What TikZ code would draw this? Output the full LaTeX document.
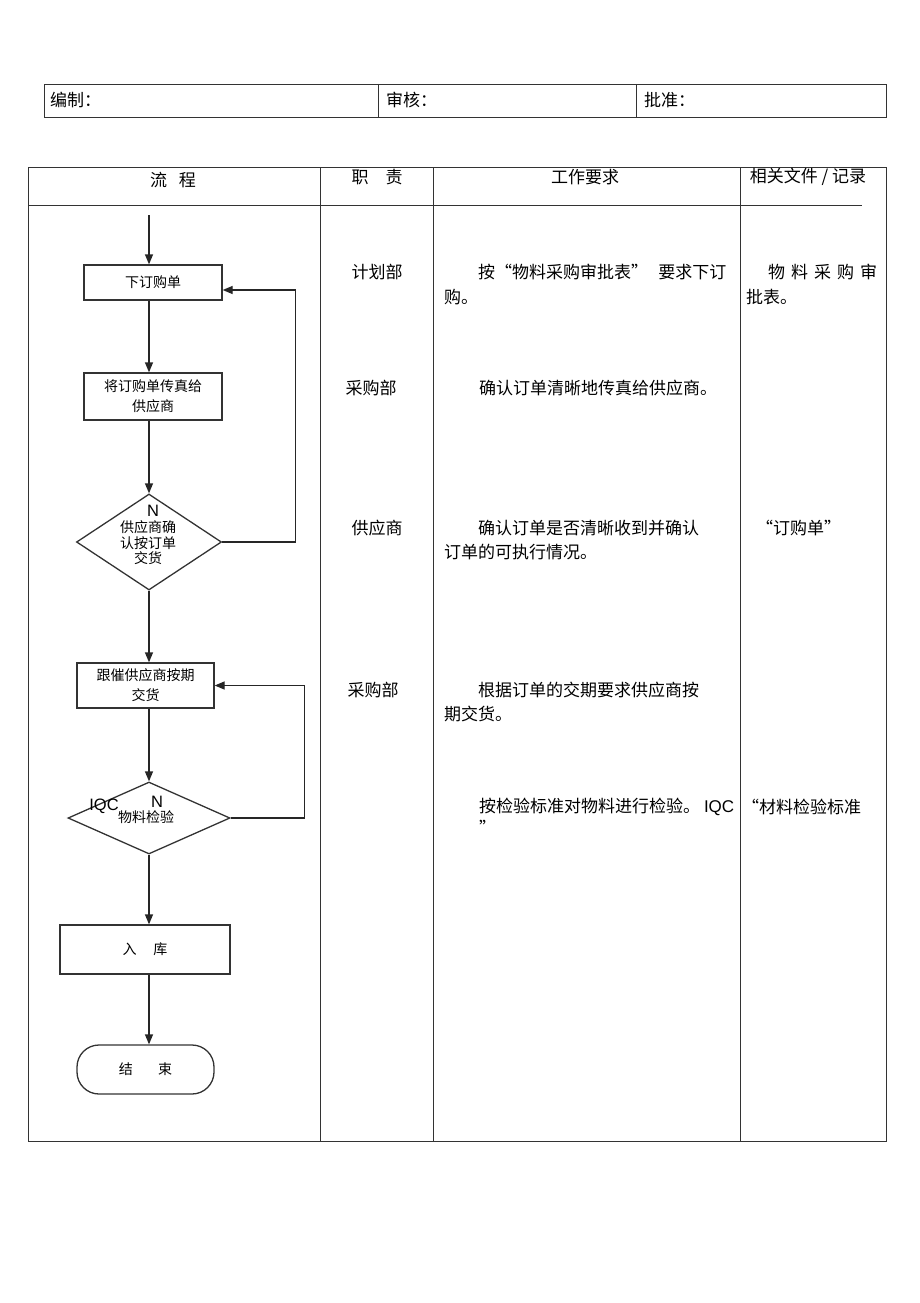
\documentclass[tikz,border=0pt]{standalone}
\usepackage{fontspec}
\setmainfont{Noto Sans CJK SC}
\newfontfamily\latfont{Liberation Sans}
\usetikzlibrary{arrows.meta,shapes.geometric}
\newcommand\flowsize{\fontsize{14}{20}\selectfont}
\newcommand\cellsize{\fontsize{17}{24.5}\selectfont}
\begin{document}
\begin{tikzpicture}[x=1pt,y=-1pt,
	>={Triangle[length=10pt,width=8pt]},
	grid/.style={line width=0.9pt,draw=black!80},
	flow/.style={->,line width=1.3pt,draw=black!85},
	procbox/.style={draw=black!80,line width=1.3pt,inner sep=0pt,font=\flowsize,align=center},
	endbox/.style={procbox,rounded corners=22pt},
	decision/.style={diamond,draw=black!80,line width=1.3pt,inner sep=0pt},
	flowtxt/.style={inner sep=0pt,font=\flowsize,align=center},
	celltxt/.style={inner sep=0pt,font=\cellsize,align=left,anchor=west},
	latin/.style={inner sep=0pt,font=\latfont\fontsize{16.5}{18}\selectfont}]
	\useasboundingbox (0,0) rectangle (920,1303);
	% Sign-off row
	\draw[grid] (44,84) rectangle (886,117);
	\foreach \x in {378,636}
		\draw[grid] (\x,84) -- (\x,117);
	\node[celltxt] (made) at (50,100) {编制：};
	\node[celltxt] (checked) at (386,100) {审核：};
	\node[celltxt] (approved) at (644,100) {批准：};
	% Table frame
	\draw[grid] (28,167) rectangle (886,1141);
	\draw[grid] (28,205) -- (862,205);
	\foreach \x in {320,433,740}
		\draw[grid] (\x,167) -- (\x,1141);
	\node[celltxt,anchor=center] (hflow) at (173,180) {流\hspace{0.7em}程};
	\node[celltxt,anchor=center] (hduty) at (377,177) {职\hspace{1em}责};
	\node[celltxt,anchor=center] (hwork) at (585,177) {工作要求};
	\node[celltxt,anchor=center] (hdocs) at (808,177) {相关文件 / 记录};
	% Flow chart
	\coordinate (spine) at (149,215);
	\node[procbox,minimum width=138,minimum height=35] (order) at (153,282.5) {下订购单};
	\node[procbox,minimum width=138,minimum height=47] (fax) at (153,396.5) {将订购单传真给\\供应商};
	\node[decision,minimum width=145,minimum height=96] (confirm) at (149,542) {};
	\node[flowtxt,font=\fontsize{14}{15.5}\selectfont] (confirmtxt) at (148,543) {供应商确\\认按订单\\交货};
	\node[latin] (confirmn) at (153,511) {N};
	\node[procbox,minimum width=137,minimum height=45] (urge) at (145.5,685.5) {跟催供应商按期\\交货};
	\node[decision,minimum width=162,minimum height=72] (inspect) at (149,818) {};
	\node[flowtxt] (inspecttxt) at (146,817) {物料检验};
	\node[latin] (inspectn) at (157,802) {N};
	\node[latin] (inspectiqc) at (104,806) {IQC};
	\node[procbox,minimum width=170,minimum height=49] (store) at (145,949.5) {入\hspace{1.2em}库};
	\node[endbox,minimum width=137,minimum height=49] (finish) at (145.5,1069.5) {结\hspace{1.8em}束};
	\draw[flow] (spine) -- (spine |- order.north);
	\draw[flow] (spine |- order.south) -- (spine |- fax.north);
	\draw[flow] (spine |- fax.south) -- (confirm.north);
	\draw[flow] (confirm.south) -- (spine |- urge.north);
	\draw[flow] (spine |- urge.south) -- (inspect.north);
	\draw[flow] (inspect.south) -- (spine |- store.north);
	\draw[flow] (spine |- store.south) -- (spine |- finish.north);
	\draw[flow] (confirm.east) -- ++(73,0) |- ([yshift=-7.5pt]order.east);
	\draw[flow] (inspect.east) -- ++(74,0) |- (urge.east);
	% Duties
	\node[celltxt,anchor=center] (duty1) at (377,272) {计划部};
	\node[celltxt,anchor=center] (duty2) at (371,388) {采购部};
	\node[celltxt,anchor=center] (duty3) at (377,528) {供应商};
	\node[celltxt,anchor=center] (duty4) at (373,690) {采购部};
	% Work requirements
	\node[celltxt] (work1) at (444,284.5) {\hspace*{2em}按“物料采购审批表”\hspace{0.6em}要求下订\\购。};
	\node[celltxt] (work2) at (479,388) {确认订单清晰地传真给供应商。};
	\node[celltxt] (work3) at (444,540) {\hspace*{2em}确认订单是否清晰收到并确认\\订单的可执行情况。};
	\node[celltxt] (work4) at (444,702) {\hspace*{2em}根据订单的交期要求供应商按\\期交货。};
	\node[celltxt] (work5) at (479,807) {按检验标准对物料进行检验。 {\latfont IQC}};
	\node[celltxt] (work5q) at (479,827) {”};
	% Records
	\node[celltxt] (rec1) at (746,284.5) {\hspace*{22pt}物\hspace{6pt}料\hspace{6pt}采\hspace{6pt}购\hspace{6pt}审\\批表。};
	\node[celltxt] (rec3) at (756,528) {“订购单”};
	\node[celltxt] (rec5) at (742,807) {“材料检验标准};
\end{tikzpicture}
\end{document}
